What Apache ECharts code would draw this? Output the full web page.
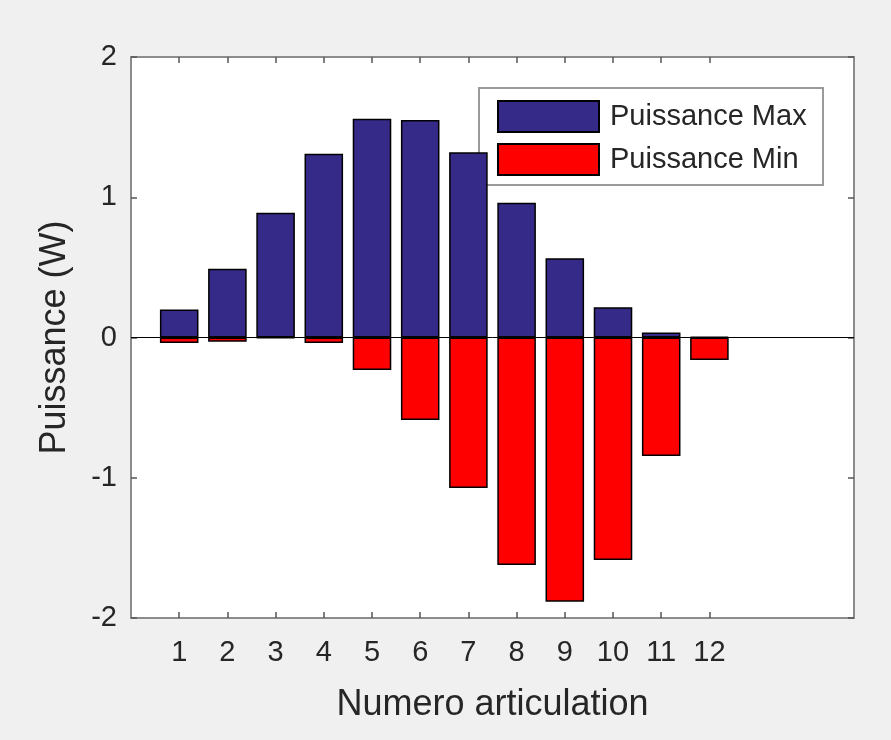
<!DOCTYPE html>
<html>
<head>
<meta charset="utf-8">
<script src="https://cdn.jsdelivr.net/npm/echarts@6/dist/echarts.min.js"></script>
<style>
  html, body { margin: 0; padding: 0; background: #f0f0f0; }
  #chart { width: 891px; height: 740px; }
</style>
</head>
<body>
<div id="chart"></div>
<script>
// Joint numbers (x positions of the bars)
const articulations = [1, 2, 3, 4, 5, 6, 7, 8, 9, 10, 11, 12];
// Maximum and minimum power per joint (W)
const puissanceMax = [0.20, 0.49, 0.89, 1.31, 1.56, 1.55, 1.32, 0.96, 0.565, 0.215, 0.036, 0.005];
const puissanceMin = [-0.04, -0.03, -0.005, -0.04, -0.232, -0.588, -1.073, -1.622, -1.884, -1.586, -0.845, -0.16];
// Axis ticks
const xTicks = [1, 2, 3, 4, 5, 6, 7, 8, 9, 10, 11, 12];
const yTicks = [-2, -1, 0, 1, 2];

const FONT = '"Liberation Sans", Arial, Helvetica, sans-serif';
const TEXT = '#262626';
const FRAME = '#8c8c8c';

const chart = echarts.init(document.getElementById('chart'), null, { renderer: 'canvas' });

const tickStyle = { show: true, inside: true, length: 6, lineStyle: { color: '#555', width: 1.5 } };

const xBase = {
  type: 'value', min: 0, max: 15, interval: 1,
  splitLine: { show: false },
  axisLine: { show: true, onZero: false, lineStyle: { color: FRAME, width: 2 } }
};
const yBase = {
  type: 'value', min: yTicks[0], max: yTicks[yTicks.length - 1], interval: 1,
  splitLine: { show: false },
  axisLine: { show: true, onZero: false, lineStyle: { color: FRAME, width: 2 } }
};

const pairs = (vals) => articulations.map((a, i) => [a, vals[i]]);

chart.setOption({
  backgroundColor: '#f0f0f0',
  animation: false,
  textStyle: { fontFamily: FONT },
  grid: { left: 131, top: 57, right: 37, bottom: 122, show: true, backgroundColor: '#ffffff', borderWidth: 0 },
  xAxis: [
    Object.assign({}, xBase, {
      position: 'bottom',
      name: 'Numero articulation', nameLocation: 'middle', nameGap: 69,
      nameTextStyle: { fontSize: 36, color: TEXT, fontFamily: FONT },
      axisTick: Object.assign({ customValues: xTicks }, tickStyle),
      axisLabel: { customValues: xTicks, fontSize: 29, color: TEXT, margin: 20, fontFamily: FONT }
    }),
    Object.assign({}, xBase, {
      position: 'top',
      axisTick: Object.assign({ customValues: xTicks }, tickStyle),
      axisLabel: { show: false }
    })
  ],
  yAxis: [
    Object.assign({}, yBase, {
      position: 'left',
      name: 'Puissance (W)', nameLocation: 'middle', nameGap: 58, nameRotate: 90,
      nameTextStyle: { fontSize: 36, color: TEXT, fontFamily: FONT },
      axisTick: tickStyle,
      axisLabel: { fontSize: 29, color: TEXT, margin: 14, fontFamily: FONT }
    }),
    Object.assign({}, yBase, {
      position: 'right',
      axisTick: tickStyle,
      axisLabel: { show: false }
    })
  ],
  legend: {
    orient: 'vertical',
    left: 497, top: 100,
    icon: 'rect',
    itemWidth: 101, itemHeight: 31, itemGap: 10,
    padding: 0,
    textStyle: { fontSize: 29, color: TEXT, fontFamily: FONT, padding: [0, 0, 0, 6] },
    data: ['Puissance Max', 'Puissance Min']
  },
  graphic: [{
    type: 'rect', left: 478, top: 87, z: 0,
    shape: { width: 344, height: 97 },
    style: { fill: '#ffffff', stroke: '#9a9a9a', lineWidth: 2 }
  }],
  series: [
    {
      name: 'Puissance Max', type: 'bar',
      data: pairs(puissanceMax),
      barWidth: '80%', barGap: '-100%',
      itemStyle: { color: '#352a87', borderColor: '#000', borderWidth: 1.5 },
      z: 2
    },
    {
      name: 'Puissance Min', type: 'bar',
      data: pairs(puissanceMin),
      barWidth: '80%', barGap: '-100%',
      itemStyle: { color: '#ff0000', borderColor: '#000', borderWidth: 1.5 },
      z: 2,
      markLine: {
        silent: true, symbol: 'none', label: { show: false },
        lineStyle: { color: '#000', width: 1, type: 'solid' },
        data: [{ yAxis: 0 }]
      }
    }
  ]
});
</script>
</body>
</html>
